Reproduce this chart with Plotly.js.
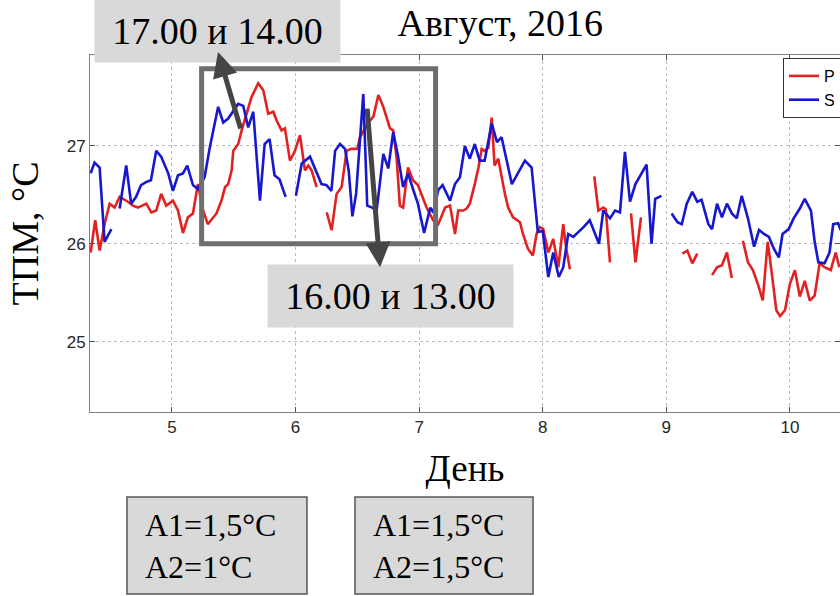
<!DOCTYPE html>
<html>
<head>
<meta charset="utf-8">
<script src="https://cdn.plot.ly/plotly-3.0.1.min.js"></script>
<style>html,body{margin:0;padding:0;background:#fff}#chart{width:840px;height:596px}</style>
</head>
<body>
<div id="chart"></div>
<script>
// Series P (red) — day of August and temperature, null = gap
const pDay = [4.342,4.379,4.415,4.455,4.496,4.536,4.577,4.604,4.644,4.684,4.725,4.792,4.833,4.873,4.913,4.954,5.008,5.049,5.089,5.129,5.170,5.210,5.250,5.290,5.360,5.400,5.430,5.455,5.483,5.496,5.536,5.564,5.604,5.644,5.698,5.739,5.779,5.820,5.847,5.887,5.914,5.955,5.995,6.036,6.076,6.103,6.130,6.171,null,
  6.252,6.292,6.332,6.373,6.413,6.450,6.500,6.521,6.590,6.630,6.670,6.710,6.764,6.790,6.817,6.844,6.870,6.910,6.950,6.990,7.060,7.114,7.155,7.210,7.250,7.290,7.316,7.357,7.384,7.410,7.450,7.480,7.506,7.530,7.560,7.587,7.610,7.640,7.694,7.720,7.760,7.816,7.840,7.880,7.920,7.950,7.977,8.004,8.045,8.085,8.126,8.166,8.190,8.220,null,
  8.417,8.450,8.490,8.510,8.544,null,
  8.714,8.750,8.795,null,
  9.130,9.170,9.210,9.250,null,
  9.370,9.410,9.450,9.490,9.530,null,
  9.620,9.660,9.700,9.740,9.780,9.820,9.850,9.890,9.920,9.960,10.000,10.040,10.080,10.120,10.160,10.200,10.240,10.280,10.330,10.370,10.400];
const pTemp = [25.91,26.24,25.93,26.20,26.41,26.37,26.48,26.46,26.43,26.39,26.37,26.41,26.32,26.34,26.51,26.39,26.44,26.34,26.11,26.27,26.31,26.61,26.35,26.20,26.31,26.44,26.58,26.61,26.75,26.95,27.02,27.16,27.33,27.50,27.64,27.57,27.33,27.35,27.26,27.16,27.18,26.85,26.95,27.11,26.75,26.80,26.75,26.58,null,
  26.32,26.14,26.51,26.58,26.95,26.97,26.97,27.09,27.24,27.30,27.52,27.40,27.18,27.16,26.89,26.39,26.37,26.78,26.65,26.60,26.37,26.24,26.20,26.37,26.39,26.10,26.34,26.34,26.36,26.41,26.61,26.78,26.97,26.95,26.98,27.29,26.80,26.87,26.51,26.37,26.27,26.22,26.10,25.95,25.88,26.10,26.17,26.15,25.91,26.05,25.76,26.20,25.95,25.74,null,
  26.69,26.34,26.37,26.35,25.81,null,
  26.31,25.81,26.27,null,
  25.90,25.93,25.80,25.90,null,
  25.68,25.76,25.78,25.91,25.65,null,
  26.03,25.81,25.73,25.59,25.42,26.02,25.73,25.32,25.26,25.32,25.59,25.73,25.46,25.62,25.42,25.47,25.80,25.76,25.73,25.91,25.76];

// Series S (blue)
const sDay = [4.342,4.374,4.415,4.455,4.510,null,
  4.577,4.630,4.670,4.710,4.750,4.790,4.830,4.873,4.913,4.970,5.008,5.049,5.089,5.124,5.170,5.210,5.264,5.307,5.374,5.415,5.455,5.500,5.536,5.577,5.617,5.658,5.712,5.750,5.790,5.830,5.870,5.920,null,
  6.003,6.050,6.117,6.140,6.170,6.210,6.250,6.290,6.320,6.360,6.400,6.430,6.460,6.490,6.548,6.580,6.620,6.656,6.710,6.750,6.790,6.830,6.870,6.910,6.950,6.990,7.040,7.090,7.114,7.155,7.190,7.250,7.290,7.330,7.370,7.410,7.450,7.490,7.530,7.587,7.630,7.667,7.750,7.800,7.856,7.910,7.960,8.000,8.045,8.085,8.130,8.166,8.206,8.247,8.290,8.330,8.380,8.420,8.455,8.490,8.544,8.585,8.625,8.665,8.706,8.750,8.840,8.880,8.910,8.960,null,
  9.043,9.090,9.125,9.165,9.210,9.250,9.285,9.340,9.370,9.410,9.450,9.490,9.530,9.570,9.610,9.660,9.710,9.750,9.790,9.830,9.870,9.910,9.940,9.990,10.030,10.080,10.120,10.170,10.200,10.230,10.280,10.320,10.350,10.390,10.410];
const sTemp = [26.72,26.83,26.78,26.02,26.15,null,
  26.36,26.80,26.41,26.48,26.60,26.63,26.65,26.95,26.89,26.72,26.54,26.70,26.72,26.80,26.60,26.56,26.68,26.99,27.40,27.24,27.28,27.36,27.43,27.41,27.19,27.35,26.44,27.02,27.07,26.70,26.66,26.48,null,
  26.49,26.82,26.89,26.82,26.72,26.61,26.60,26.54,26.95,27.02,26.97,26.75,26.28,26.51,27.53,26.39,26.37,26.34,26.92,26.77,27.14,26.89,26.58,26.72,26.56,26.41,26.11,26.37,26.32,26.55,26.60,26.44,26.61,26.68,27.00,26.87,27.02,26.85,26.85,27.23,27.04,27.09,26.61,26.73,26.85,26.78,26.12,26.13,25.66,25.91,25.66,25.76,26.10,26.07,26.12,26.17,26.24,26.10,26.00,26.34,26.26,26.34,26.32,26.94,26.43,26.61,26.81,26.00,26.46,26.49,null,
  26.31,26.22,26.20,26.41,26.53,26.43,26.45,26.20,26.15,26.41,26.27,26.41,26.31,26.26,26.49,26.26,25.97,26.14,26.10,26.07,25.95,25.86,26.10,26.15,26.26,26.36,26.46,26.34,26.02,25.81,25.80,25.91,26.20,26.21,26.14];

const seriesNames = ['P', 'S'];
const yTicks = [25, 26, 27];
const titleText = 'Август, 2016';
const xTitle = 'День';
const yTitle = 'ТПМ, °С';
const label1 = '17.00 и 14.00';
const label2 = '16.00 и 13.00';
const note1 = 'A1=1,5°C<br>A2=1°C';
const note2 = 'A1=1,5°C<br>A2=1,5°C';

const serif = 'Liberation Serif, Times New Roman, serif';
const sans = 'Liberation Sans, Arial, sans-serif';

const traces = [
  {x: pDay, y: pTemp, name: seriesNames[0], type: 'scatter', mode: 'lines',
   line: {color: '#e22222', width: 2.6}, connectgaps: false},
  {x: sDay, y: sTemp, name: seriesNames[1], type: 'scatter', mode: 'lines',
   line: {color: '#1717cf', width: 2.6}, connectgaps: false}
];

const layout = {
  width: 840, height: 596,
  margin: {l: 90, r: 0, t: 55, b: 184, autoexpand: false},
  paper_bgcolor: '#ffffff', plot_bgcolor: '#ffffff',
  showlegend: true,
  title: {text: titleText, font: {family: serif, size: 38, color: '#000'},
          x: 0.547, xanchor: 'center', xref: 'paper', y: 0.962, yanchor: 'middle', yref: 'container'},
  xaxis: {range: [4.337, 10.405], tick0: 0, dtick: 1, showgrid: true,
          gridcolor: '#bdbdbd', griddash: 'dot', gridwidth: 1, zeroline: false,
          showline: true, linecolor: '#808080', linewidth: 1, mirror: 'ticks',
          ticks: 'inside', ticklen: 5, tickcolor: '#555', ticklabelstandoff: 0,
          tickfont: {family: sans, size: 17, color: '#262626'},
          title: {text: xTitle, font: {family: serif, size: 37, color: '#000'}, standoff: 18}},
  yaxis: {range: [24.28, 27.93], tickvals: yTicks, showgrid: true,
          gridcolor: '#bdbdbd', griddash: 'dot', gridwidth: 1, zeroline: false,
          showline: true, linecolor: '#808080', linewidth: 1, mirror: 'ticks',
          ticks: 'inside', ticklen: 5, tickcolor: '#555',
          tickfont: {family: sans, size: 17, color: '#262626'},
          title: {text: yTitle, font: {family: serif, size: 38, color: '#000'}, standoff: 16}},
  legend: {x: 0.924, y: 0.9916, xanchor: 'left', yanchor: 'top',
           bgcolor: '#ffffff', bordercolor: '#333', borderwidth: 1,
           font: {family: sans, size: 16, color: '#000'}, itemwidth: 30, tracegroupgap: 0},
  shapes: [
    {type: 'rect', xref: 'x', yref: 'y', x0: 5.24, x1: 7.133, y0: 26.0, y1: 27.79,
     line: {color: '#6e6e6e', width: 5}, fillcolor: 'rgba(0,0,0,0)', layer: 'above'},
    {type: 'rect', xref: 'paper', yref: 'paper', x0: 0.0493, x1: 0.2893, y0: -0.51, y1: -0.2384,
     line: {color: '#555', width: 1.5}, fillcolor: '#d9d9d9', layer: 'above'},
    {type: 'rect', xref: 'paper', yref: 'paper', x0: 0.3533, x1: 0.5907, y0: -0.51, y1: -0.2384,
     line: {color: '#555', width: 1.5}, fillcolor: '#d9d9d9', layer: 'above'}
  ],
  annotations: [
    {text: label1, xref: 'paper', yref: 'paper', x: 0.17, y: 1.0673, xanchor: 'center', yanchor: 'middle',
     showarrow: false, bgcolor: '#d9d9d9', width: 237, height: 54, borderpad: 4,
     font: {family: serif, size: 38, color: '#000'}},
    {text: label2, xref: 'paper', yref: 'paper', x: 0.4007, y: 0.3258, xanchor: 'center', yanchor: 'middle',
     showarrow: false, bgcolor: '#d9d9d9', width: 237, height: 54, borderpad: 4,
     font: {family: serif, size: 38, color: '#000'}},
    {text: note1, xref: 'paper', yref: 'paper', x: 0.0707, y: -0.3765, xanchor: 'left', yanchor: 'middle',
     showarrow: false, align: 'left', font: {family: serif, size: 32, color: '#000'}},
    {text: note2, xref: 'paper', yref: 'paper', x: 0.3747, y: -0.3765, xanchor: 'left', yanchor: 'middle',
     showarrow: false, align: 'left', font: {family: serif, size: 32, color: '#000'}},
    {text: '', xref: 'paper', yref: 'paper', x: 0.1707, y: 1.0084, ax: 23, ay: 78,
     showarrow: true, arrowhead: 2, arrowsize: 1, arrowwidth: 5, arrowcolor: '#454545', standoff: 0},
    {text: '', xref: 'paper', yref: 'paper', x: 0.3867, y: 0.4057, ax: -13, ay: -160,
     showarrow: true, arrowhead: 2, arrowsize: 1, arrowwidth: 5, arrowcolor: '#454545', standoff: 0}
  ]
};

Plotly.newPlot('chart', traces, layout, {displayModeBar: false, staticPlot: true});
</script>
</body>
</html>
